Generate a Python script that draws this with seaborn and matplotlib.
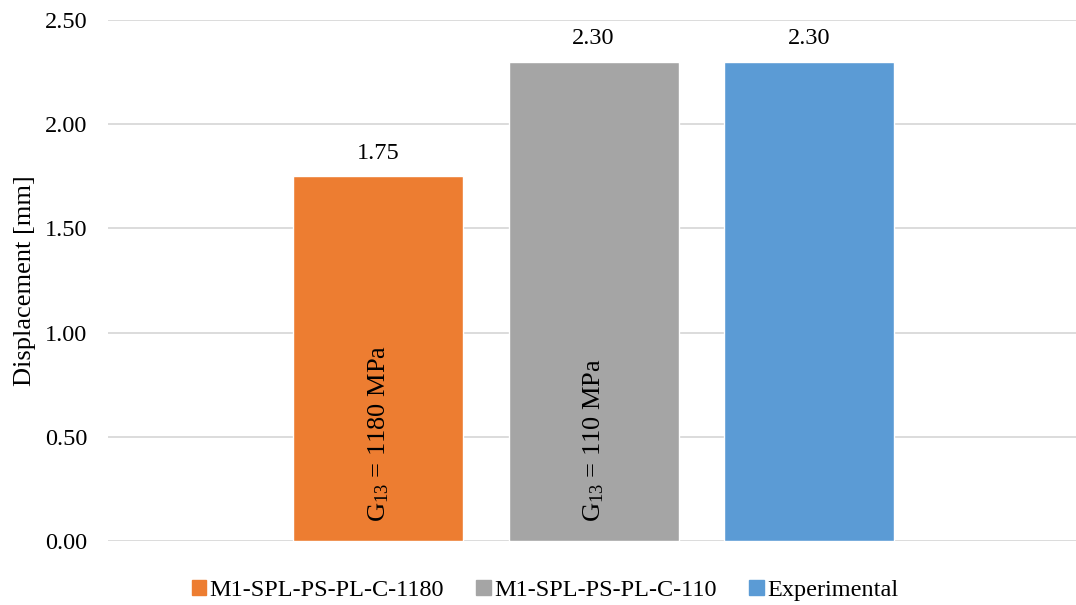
import matplotlib
matplotlib.use("Agg")
import matplotlib.pyplot as plt
import seaborn as sns
import pandas as pd

# Data
series = ["M1-SPL-PS-PL-C-1180", "M1-SPL-PS-PL-C-110", "Experimental"]
displacement = [1.75, 2.30, 2.30]
inner_labels = [r"G$_{13}$ = 1180 MPa", r"G$_{13}$ = 110 MPa", ""]
colors = ["#ED7D31", "#A5A5A5", "#5B9BD5"]
y_ticks = [0.0, 0.5, 1.0, 1.5, 2.0, 2.5]

sns.set_theme(style="white")
plt.rcParams["font.family"] = ["Liberation Serif", "DejaVu Serif"]
plt.rcParams["mathtext.fontset"] = "custom"
plt.rcParams["mathtext.rm"] = "Liberation Serif"
plt.rcParams["mathtext.it"] = "Liberation Serif:italic"
plt.rcParams["text.color"] = "black"
plt.rcParams["axes.labelcolor"] = "black"
plt.rcParams["ytick.color"] = "black"

df = pd.DataFrame({"series": series, "value": displacement})

fig = plt.figure(figsize=(10.76, 6.05), dpi=100)
ax = fig.add_axes([0.1004, 0.1058, 0.8996, 0.8612])

sns.barplot(data=df, x="series", y="value", hue="series", palette=colors,
            width=0.79, dodge=False, legend=False, ax=ax, saturation=1)

ax.set_xlim(-1.256, 3.242)
ax.set_ylim(0, 2.5)
ax.set_yticks(y_ticks)
ax.set_yticklabels([f"{t:.2f}" for t in y_ticks], fontsize=17.5)
ax.set_xticks([])
ax.set_xlabel("")
ax.set_ylabel("Displacement [mm]", fontsize=19, labelpad=6)
ax.tick_params(axis="y", length=0, pad=15)
ax.yaxis.grid(True, color="#D9D9D9", linewidth=1.3)
ax.set_axisbelow(True)
for s in ax.spines.values():
    s.set_visible(False)

# Value labels above bars and rotated annotations inside bars
for i, (v, lab) in enumerate(zip(displacement, inner_labels)):
    ax.text(i, v + 0.06, f"{v:.2f}", ha="center", va="bottom", fontsize=17.5)
    if lab:
        ax.text(i, 0.09, lab, rotation=90, ha="center", va="bottom", fontsize=19)

# Legend
handles = [plt.Rectangle((0, 0), 1, 1, color=c) for c in colors]
fig.legend(handles, series, loc="lower center", bbox_to_anchor=(0.5065, -0.030),
           ncol=3, frameon=False, fontsize=17.5, handlelength=0.6, handleheight=0.6,
           handletextpad=0.15, columnspacing=1.32)

fig.savefig("out.png", dpi=100)
